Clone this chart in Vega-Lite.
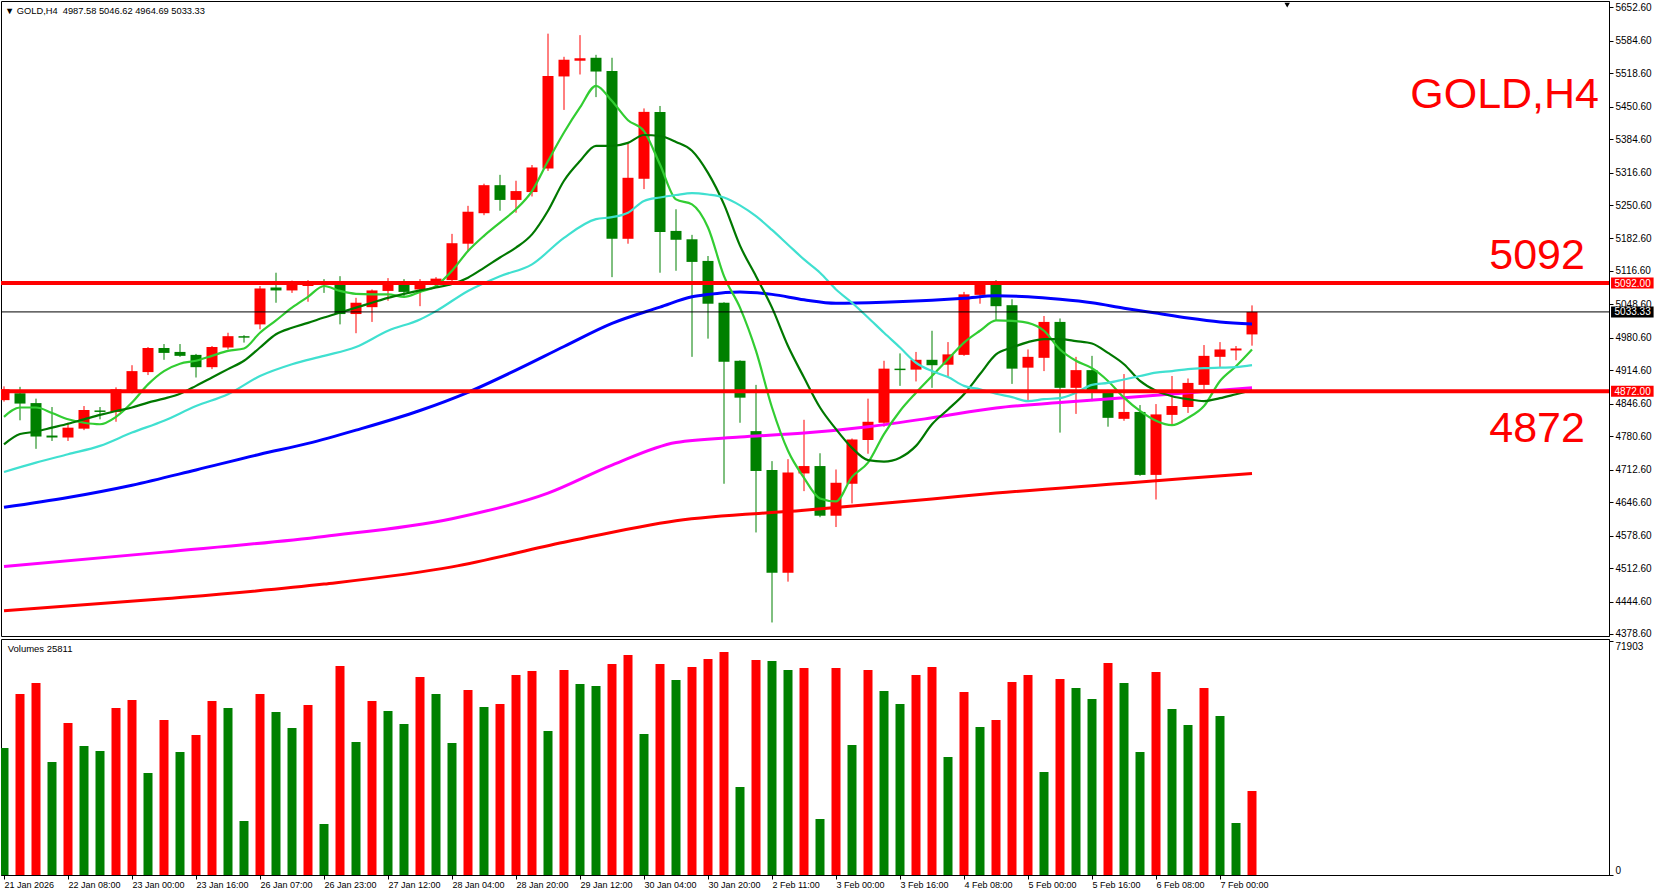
{
  "$schema": "https://vega.github.io/schema/vega-lite/v6.json",
  "padding": 0,
  "spacing": 3,
  "bounds": "flush",
  "background": "white",
  "config": {
    "view": {"stroke": "#000000", "strokeWidth": 1},
    "font": "Liberation Sans",
    "axis": {"domainColor": "#000000", "tickColor": "#000000", "labelColor": "#000000", "labelFont": "Liberation Sans", "labelFontSize": 10, "grid": false, "title": null, "labelOverlap": false, "labelFlush": false, "labelBound": false}
  },
  "datasets": {
    "bars": [
      {"i":0,"o":4854,"h":4882,"l":4851,"c":4876,"v":39027,"vd":"down"},
      {"i":1,"o":4868,"h":4881,"l":4813,"c":4847,"v":55621,"vd":"up"},
      {"i":2,"o":4848,"h":4857,"l":4755,"c":4780,"v":59002,"vd":"up"},
      {"i":3,"o":4782,"h":4840,"l":4771,"c":4778,"v":34725,"vd":"down"},
      {"i":4,"o":4778,"h":4808,"l":4771,"c":4798,"v":46710,"vd":"up"},
      {"i":5,"o":4796,"h":4842,"l":4793,"c":4834,"v":39642,"vd":"down"},
      {"i":6,"o":4833,"h":4840,"l":4815,"c":4830,"v":38105,"vd":"down"},
      {"i":7,"o":4830,"h":4880,"l":4810,"c":4876,"v":51319,"vd":"up"},
      {"i":8,"o":4874,"h":4925,"l":4868,"c":4913,"v":53778,"vd":"up"},
      {"i":9,"o":4911,"h":4962,"l":4905,"c":4960,"v":31345,"vd":"down"},
      {"i":10,"o":4960,"h":4968,"l":4936,"c":4950,"v":47632,"vd":"up"},
      {"i":11,"o":4952,"h":4968,"l":4942,"c":4944,"v":37798,"vd":"down"},
      {"i":12,"o":4946,"h":4948,"l":4900,"c":4921,"v":43022,"vd":"up"},
      {"i":13,"o":4921,"h":4964,"l":4917,"c":4962,"v":53470,"vd":"up"},
      {"i":14,"o":4961,"h":4991,"l":4957,"c":4984,"v":51319,"vd":"down"},
      {"i":15,"o":4984,"h":4986,"l":4971,"c":4981,"v":16594,"vd":"down"},
      {"i":16,"o":5008,"h":5086,"l":4998,"c":5081,"v":55621,"vd":"up"},
      {"i":17,"o":5083,"h":5113,"l":5052,"c":5077,"v":50090,"vd":"down"},
      {"i":18,"o":5077,"h":5097,"l":5072,"c":5090,"v":45173,"vd":"down"},
      {"i":19,"o":5086,"h":5098,"l":5054,"c":5092,"v":52241,"vd":"up"},
      {"i":20,"o":5094,"h":5100,"l":5072,"c":5088,"v":15672,"vd":"down"},
      {"i":21,"o":5090,"h":5106,"l":5008,"c":5029,"v":64226,"vd":"up"},
      {"i":22,"o":5029,"h":5062,"l":4990,"c":5052,"v":40871,"vd":"down"},
      {"i":23,"o":5043,"h":5079,"l":5013,"c":5077,"v":53470,"vd":"up"},
      {"i":24,"o":5076,"h":5102,"l":5056,"c":5090,"v":50397,"vd":"down"},
      {"i":25,"o":5093,"h":5100,"l":5062,"c":5074,"v":46402,"vd":"down"},
      {"i":26,"o":5079,"h":5100,"l":5045,"c":5094,"v":60845,"vd":"up"},
      {"i":27,"o":5090,"h":5104,"l":5085,"c":5101,"v":55621,"vd":"down"},
      {"i":28,"o":5098,"h":5192,"l":5090,"c":5173,"v":40564,"vd":"down"},
      {"i":29,"o":5172,"h":5249,"l":5156,"c":5237,"v":56851,"vd":"up"},
      {"i":30,"o":5234,"h":5294,"l":5230,"c":5291,"v":51626,"vd":"down"},
      {"i":31,"o":5291,"h":5312,"l":5239,"c":5261,"v":52548,"vd":"up"},
      {"i":32,"o":5261,"h":5300,"l":5235,"c":5279,"v":61460,"vd":"up"},
      {"i":33,"o":5277,"h":5332,"l":5268,"c":5327,"v":62689,"vd":"up"},
      {"i":34,"o":5325,"h":5599,"l":5320,"c":5513,"v":44251,"vd":"down"},
      {"i":35,"o":5512,"h":5552,"l":5444,"c":5546,"v":62997,"vd":"up"},
      {"i":36,"o":5544,"h":5596,"l":5516,"c":5549,"v":58694,"vd":"down"},
      {"i":37,"o":5550,"h":5556,"l":5470,"c":5522,"v":58080,"vd":"down"},
      {"i":38,"o":5523,"h":5550,"l":5104,"c":5182,"v":64840,"vd":"up"},
      {"i":39,"o":5182,"h":5375,"l":5172,"c":5306,"v":67606,"vd":"up"},
      {"i":40,"o":5304,"h":5447,"l":5283,"c":5440,"v":43329,"vd":"down"},
      {"i":41,"o":5440,"h":5452,"l":5113,"c":5196,"v":64840,"vd":"up"},
      {"i":42,"o":5198,"h":5242,"l":5117,"c":5180,"v":59924,"vd":"down"},
      {"i":43,"o":5181,"h":5190,"l":4942,"c":5135,"v":63918,"vd":"up"},
      {"i":44,"o":5137,"h":5147,"l":4979,"c":5050,"v":66377,"vd":"up"},
      {"i":45,"o":5052,"h":5053,"l":4684,"c":4932,"v":68528,"vd":"up"},
      {"i":46,"o":4934,"h":4935,"l":4808,"c":4859,"v":27042,"vd":"down"},
      {"i":47,"o":4791,"h":4885,"l":4585,"c":4710,"v":66070,"vd":"up"},
      {"i":48,"o":4712,"h":4730,"l":4402,"c":4503,"v":65762,"vd":"down"},
      {"i":49,"o":4503,"h":4734,"l":4485,"c":4707,"v":62997,"vd":"down"},
      {"i":50,"o":4705,"h":4814,"l":4669,"c":4720,"v":63611,"vd":"up"},
      {"i":51,"o":4720,"h":4746,"l":4616,"c":4619,"v":17209,"vd":"down"},
      {"i":52,"o":4619,"h":4713,"l":4596,"c":4686,"v":63611,"vd":"up"},
      {"i":53,"o":4684,"h":4776,"l":4644,"c":4774,"v":39949,"vd":"down"},
      {"i":54,"o":4773,"h":4857,"l":4745,"c":4810,"v":62997,"vd":"up"},
      {"i":55,"o":4808,"h":4934,"l":4800,"c":4918,"v":56543,"vd":"down"},
      {"i":56,"o":4918,"h":4949,"l":4883,"c":4915,"v":52548,"vd":"down"},
      {"i":57,"o":4916,"h":4952,"l":4892,"c":4936,"v":61460,"vd":"up"},
      {"i":58,"o":4936,"h":4995,"l":4879,"c":4925,"v":63918,"vd":"up"},
      {"i":59,"o":4926,"h":4972,"l":4900,"c":4947,"v":36261,"vd":"down"},
      {"i":60,"o":4946,"h":5074,"l":4944,"c":5069,"v":56236,"vd":"up"},
      {"i":61,"o":5068,"h":5096,"l":5050,"c":5088,"v":45480,"vd":"down"},
      {"i":62,"o":5090,"h":5098,"l":5016,"c":5045,"v":47632,"vd":"up"},
      {"i":63,"o":5047,"h":5059,"l":4887,"c":4918,"v":59309,"vd":"up"},
      {"i":64,"o":4920,"h":4957,"l":4854,"c":4942,"v":61460,"vd":"up"},
      {"i":65,"o":4940,"h":5025,"l":4913,"c":5013,"v":31652,"vd":"down"},
      {"i":66,"o":5013,"h":5020,"l":4788,"c":4879,"v":60231,"vd":"up"},
      {"i":67,"o":4879,"h":4942,"l":4826,"c":4915,"v":57465,"vd":"down"},
      {"i":68,"o":4915,"h":4944,"l":4852,"c":4873,"v":54085,"vd":"down"},
      {"i":69,"o":4872,"h":4875,"l":4800,"c":4818,"v":65148,"vd":"up"},
      {"i":70,"o":4816,"h":4907,"l":4812,"c":4830,"v":59002,"vd":"down"},
      {"i":71,"o":4830,"h":4844,"l":4700,"c":4702,"v":37798,"vd":"down"},
      {"i":72,"o":4702,"h":4846,"l":4652,"c":4825,"v":62382,"vd":"up"},
      {"i":73,"o":4824,"h":4903,"l":4805,"c":4842,"v":51012,"vd":"down"},
      {"i":74,"o":4840,"h":4898,"l":4828,"c":4889,"v":46095,"vd":"down"},
      {"i":75,"o":4885,"h":4966,"l":4876,"c":4944,"v":57465,"vd":"up"},
      {"i":76,"o":4942,"h":4972,"l":4921,"c":4957,"v":48861,"vd":"down"},
      {"i":77,"o":4955,"h":4964,"l":4935,"c":4959,"v":15980,"vd":"down"},
      {"i":78,"o":4987.58,"h":5046.62,"l":4964.69,"c":5033.33,"v":25811,"vd":"up"}
    ],
    "ma": [
      {"s":"LG","i":0,"v":4820},{"s":"LG","i":1,"v":4839},{"s":"LG","i":2,"v":4839},{"s":"LG","i":3,"v":4828},{"s":"LG","i":4,"v":4815},{"s":"LG","i":5,"v":4808},{"s":"LG","i":6,"v":4805},{"s":"LG","i":7,"v":4820},{"s":"LG","i":8,"v":4849},{"s":"LG","i":9,"v":4886},{"s":"LG","i":10,"v":4913},{"s":"LG","i":11,"v":4928},{"s":"LG","i":12,"v":4934},{"s":"LG","i":13,"v":4944},{"s":"LG","i":14,"v":4954},{"s":"LG","i":15,"v":4959},{"s":"LG","i":16,"v":4991},{"s":"LG","i":17,"v":5016},{"s":"LG","i":18,"v":5042},{"s":"LG","i":19,"v":5064},{"s":"LG","i":20,"v":5086},{"s":"LG","i":21,"v":5076},{"s":"LG","i":22,"v":5070},{"s":"LG","i":23,"v":5069},{"s":"LG","i":24,"v":5069},{"s":"LG","i":25,"v":5064},{"s":"LG","i":26,"v":5074},{"s":"LG","i":27,"v":5086},{"s":"LG","i":28,"v":5117},{"s":"LG","i":29,"v":5157},{"s":"LG","i":30,"v":5188},{"s":"LG","i":31,"v":5215},{"s":"LG","i":32,"v":5242},{"s":"LG","i":33,"v":5279},{"s":"LG","i":34,"v":5340},{"s":"LG","i":35,"v":5398},{"s":"LG","i":36,"v":5449},{"s":"LG","i":37,"v":5493},{"s":"LG","i":38,"v":5462},{"s":"LG","i":39,"v":5423},{"s":"LG","i":40,"v":5401},{"s":"LG","i":41,"v":5333},{"s":"LG","i":42,"v":5262},{"s":"LG","i":43,"v":5252},{"s":"LG","i":44,"v":5205},{"s":"LG","i":45,"v":5106},{"s":"LG","i":46,"v":5042},{"s":"LG","i":47,"v":4954},{"s":"LG","i":48,"v":4839},{"s":"LG","i":49,"v":4751},{"s":"LG","i":50,"v":4696},{"s":"LG","i":51,"v":4654},{"s":"LG","i":52,"v":4648},{"s":"LG","i":53,"v":4698},{"s":"LG","i":54,"v":4727},{"s":"LG","i":55,"v":4785},{"s":"LG","i":56,"v":4832},{"s":"LG","i":57,"v":4869},{"s":"LG","i":58,"v":4903},{"s":"LG","i":59,"v":4937},{"s":"LG","i":60,"v":4971},{"s":"LG","i":61,"v":4995},{"s":"LG","i":62,"v":5016},{"s":"LG","i":63,"v":5015},{"s":"LG","i":64,"v":5011},{"s":"LG","i":65,"v":4995},{"s":"LG","i":66,"v":4957},{"s":"LG","i":67,"v":4934},{"s":"LG","i":68,"v":4919},{"s":"LG","i":69,"v":4893},{"s":"LG","i":70,"v":4859},{"s":"LG","i":71,"v":4832},{"s":"LG","i":72,"v":4812},{"s":"LG","i":73,"v":4803},{"s":"LG","i":74,"v":4818},{"s":"LG","i":75,"v":4842},{"s":"LG","i":76,"v":4893},{"s":"LG","i":77,"v":4923},{"s":"LG","i":78,"v":4957},
      {"s":"DG","i":0,"v":4764},{"s":"DG","i":1,"v":4785},{"s":"DG","i":2,"v":4790},{"s":"DG","i":3,"v":4798},{"s":"DG","i":4,"v":4806},{"s":"DG","i":5,"v":4815},{"s":"DG","i":6,"v":4824},{"s":"DG","i":7,"v":4832},{"s":"DG","i":8,"v":4839},{"s":"DG","i":9,"v":4849},{"s":"DG","i":10,"v":4857},{"s":"DG","i":11,"v":4867},{"s":"DG","i":12,"v":4883},{"s":"DG","i":13,"v":4900},{"s":"DG","i":14,"v":4917},{"s":"DG","i":15,"v":4934},{"s":"DG","i":16,"v":4961},{"s":"DG","i":17,"v":4988},{"s":"DG","i":18,"v":5001},{"s":"DG","i":19,"v":5011},{"s":"DG","i":20,"v":5022},{"s":"DG","i":21,"v":5032},{"s":"DG","i":22,"v":5042},{"s":"DG","i":23,"v":5052},{"s":"DG","i":24,"v":5062},{"s":"DG","i":25,"v":5070},{"s":"DG","i":26,"v":5077},{"s":"DG","i":27,"v":5083},{"s":"DG","i":28,"v":5090},{"s":"DG","i":29,"v":5103},{"s":"DG","i":30,"v":5123},{"s":"DG","i":31,"v":5144},{"s":"DG","i":32,"v":5164},{"s":"DG","i":33,"v":5191},{"s":"DG","i":34,"v":5239},{"s":"DG","i":35,"v":5300},{"s":"DG","i":36,"v":5340},{"s":"DG","i":37,"v":5371},{"s":"DG","i":38,"v":5371},{"s":"DG","i":39,"v":5377},{"s":"DG","i":40,"v":5393},{"s":"DG","i":41,"v":5391},{"s":"DG","i":42,"v":5379},{"s":"DG","i":43,"v":5361},{"s":"DG","i":44,"v":5316},{"s":"DG","i":45,"v":5252},{"s":"DG","i":46,"v":5168},{"s":"DG","i":47,"v":5106},{"s":"DG","i":48,"v":5042},{"s":"DG","i":49,"v":4964},{"s":"DG","i":50,"v":4900},{"s":"DG","i":51,"v":4839},{"s":"DG","i":52,"v":4795},{"s":"DG","i":53,"v":4757},{"s":"DG","i":54,"v":4732},{"s":"DG","i":55,"v":4729},{"s":"DG","i":56,"v":4737},{"s":"DG","i":57,"v":4761},{"s":"DG","i":58,"v":4805},{"s":"DG","i":59,"v":4835},{"s":"DG","i":60,"v":4866},{"s":"DG","i":61,"v":4907},{"s":"DG","i":62,"v":4947},{"s":"DG","i":63,"v":4961},{"s":"DG","i":64,"v":4972},{"s":"DG","i":65,"v":4978},{"s":"DG","i":66,"v":4978},{"s":"DG","i":67,"v":4974},{"s":"DG","i":68,"v":4969},{"s":"DG","i":69,"v":4950},{"s":"DG","i":70,"v":4927},{"s":"DG","i":71,"v":4893},{"s":"DG","i":72,"v":4873},{"s":"DG","i":73,"v":4862},{"s":"DG","i":74,"v":4856},{"s":"DG","i":75,"v":4852},{"s":"DG","i":76,"v":4858},{"s":"DG","i":77,"v":4866},{"s":"DG","i":78,"v":4874},
      {"s":"TQ","i":0,"v":4708},{"s":"TQ","i":2,"v":4727},{"s":"TQ","i":4,"v":4744},{"s":"TQ","i":6,"v":4761},{"s":"TQ","i":8,"v":4788},{"s":"TQ","i":10,"v":4812},{"s":"TQ","i":12,"v":4842},{"s":"TQ","i":14,"v":4866},{"s":"TQ","i":16,"v":4903},{"s":"TQ","i":18,"v":4927},{"s":"TQ","i":20,"v":4944},{"s":"TQ","i":22,"v":4962},{"s":"TQ","i":24,"v":4995},{"s":"TQ","i":26,"v":5018},{"s":"TQ","i":27,"v":5035},{"s":"TQ","i":29,"v":5076},{"s":"TQ","i":31,"v":5106},{"s":"TQ","i":33,"v":5130},{"s":"TQ","i":35,"v":5184},{"s":"TQ","i":37,"v":5222},{"s":"TQ","i":38,"v":5226},{"s":"TQ","i":39,"v":5235},{"s":"TQ","i":40,"v":5259},{"s":"TQ","i":41,"v":5266},{"s":"TQ","i":42,"v":5271},{"s":"TQ","i":43,"v":5275},{"s":"TQ","i":44,"v":5272},{"s":"TQ","i":45,"v":5266},{"s":"TQ","i":46,"v":5250},{"s":"TQ","i":47,"v":5228},{"s":"TQ","i":48,"v":5200},{"s":"TQ","i":49,"v":5170},{"s":"TQ","i":50,"v":5140},{"s":"TQ","i":51,"v":5113},{"s":"TQ","i":52,"v":5079},{"s":"TQ","i":53,"v":5052},{"s":"TQ","i":54,"v":5022},{"s":"TQ","i":55,"v":4991},{"s":"TQ","i":56,"v":4961},{"s":"TQ","i":57,"v":4930},{"s":"TQ","i":58,"v":4913},{"s":"TQ","i":59,"v":4901},{"s":"TQ","i":60,"v":4883},{"s":"TQ","i":61,"v":4876},{"s":"TQ","i":62,"v":4867},{"s":"TQ","i":63,"v":4860},{"s":"TQ","i":64,"v":4852},{"s":"TQ","i":65,"v":4856},{"s":"TQ","i":66,"v":4858},{"s":"TQ","i":67,"v":4869},{"s":"TQ","i":68,"v":4885},{"s":"TQ","i":69,"v":4889},{"s":"TQ","i":70,"v":4896},{"s":"TQ","i":71,"v":4903},{"s":"TQ","i":72,"v":4910},{"s":"TQ","i":73,"v":4913},{"s":"TQ","i":74,"v":4917},{"s":"TQ","i":75,"v":4919},{"s":"TQ","i":76,"v":4920},{"s":"TQ","i":77,"v":4921},{"s":"TQ","i":78,"v":4925},
      {"s":"BL","i":0,"v":4636},{"s":"BL","i":4,"v":4656},{"s":"BL","i":8,"v":4681},{"s":"BL","i":12,"v":4712},{"s":"BL","i":16,"v":4744},{"s":"BL","i":19,"v":4766},{"s":"BL","i":22,"v":4793},{"s":"BL","i":26,"v":4833},{"s":"BL","i":29,"v":4870},{"s":"BL","i":32,"v":4915},{"s":"BL","i":35,"v":4963},{"s":"BL","i":38,"v":5010},{"s":"BL","i":41,"v":5043},{"s":"BL","i":43,"v":5064},{"s":"BL","i":44,"v":5069},{"s":"BL","i":46,"v":5074},{"s":"BL","i":48,"v":5069},{"s":"BL","i":50,"v":5058},{"s":"BL","i":52,"v":5051},{"s":"BL","i":55,"v":5053},{"s":"BL","i":58,"v":5057},{"s":"BL","i":60,"v":5061},{"s":"BL","i":62,"v":5066},{"s":"BL","i":64,"v":5064},{"s":"BL","i":66,"v":5059},{"s":"BL","i":68,"v":5052},{"s":"BL","i":70,"v":5041},{"s":"BL","i":72,"v":5031},{"s":"BL","i":74,"v":5021},{"s":"BL","i":76,"v":5013},{"s":"BL","i":78,"v":5009},
      {"s":"MG","i":0,"v":4516},{"s":"MG","i":10,"v":4545},{"s":"MG","i":20,"v":4577},{"s":"MG","i":28,"v":4613},{"s":"MG","i":34,"v":4665},{"s":"MG","i":38,"v":4722},{"s":"MG","i":42,"v":4768},{"s":"MG","i":46,"v":4779},{"s":"MG","i":50,"v":4787},{"s":"MG","i":54,"v":4800},{"s":"MG","i":58,"v":4818},{"s":"MG","i":62,"v":4838},{"s":"MG","i":66,"v":4849},{"s":"MG","i":70,"v":4859},{"s":"MG","i":74,"v":4869},{"s":"MG","i":78,"v":4879},
      {"s":"RD","i":0,"v":4426},{"s":"RD","i":10,"v":4450},{"s":"RD","i":20,"v":4480},{"s":"RD","i":28,"v":4515},{"s":"RD","i":35,"v":4565},{"s":"RD","i":42,"v":4609},{"s":"RD","i":50,"v":4630},{"s":"RD","i":58,"v":4653},{"s":"RD","i":62,"v":4665},{"s":"RD","i":70,"v":4685},{"s":"RD","i":78,"v":4705}
    ],
    "levels": [
      {"level":5092,"label":"5092.00","kind":"sr"},
      {"level":4872,"label":"4872.00","kind":"sr"},
      {"level":5033.33,"label":"5033.33","kind":"bid"}
    ],
    "notes": [
      {"t":"GOLD,H4","x":99.69,"y":5448},
      {"t":"5092","x":98.81,"y":5120},
      {"t":"4872","x":98.81,"y":4768}
    ],
    "header": [
      {"t":"▼ GOLD,H4\u00a0 4987.58 5046.62 4964.69 5033.33","x":0.0,"y":5645}
    ],
    "marker": [
      {"x":80.2,"y":5657}
    ],
    "vlabel": [
      {"t":"Volumes 25811","x":0.23,"y":69603}
    ]
  },
  "vconcat": [
    {
      "width": 1608,
      "height": 635,
      "layer": [
        {
          "data": {"name": "bars"},
          "mark": {"type": "rule", "strokeWidth": 1, "clip": true},
          "encoding": {
            "x": {"field": "i", "type": "quantitative", "scale": {"domain": [-0.1875, 100.3125], "nice": false, "zero": false, "padding": 0}, "axis": null},
            "y": {"field": "l", "type": "quantitative", "scale": {"domain": [4374.5, 5665.4], "nice": false, "zero": false, "padding": 0},
                  "axis": {"orient": "right", "values": [5652.6,5584.6,5518.6,5450.6,5384.6,5316.6,5250.6,5182.6,5116.6,5048.6,4980.6,4914.6,4846.6,4780.6,4712.6,4646.6,4578.6,4512.6,4444.6,4378.6], "tickCount": 100, "format": ".2f", "tickSize": 4, "labelPadding": 2, "labelOverlap": false, "labelBound": false}},
            "y2": {"field": "h"},
            "color": {"condition": {"test": "datum.c >= datum.o", "value": "#FF0000"}, "value": "#008000"}
          }
        },
        {
          "data": {"name": "bars"},
          "mark": {"type": "bar", "size": 11, "clip": true},
          "encoding": {
            "x": {"field": "i", "type": "quantitative"},
            "y": {"field": "o", "type": "quantitative"},
            "y2": {"field": "c"},
            "color": {"condition": {"test": "datum.c >= datum.o", "value": "#FF0000"}, "value": "#008000"}
          }
        },
        {
          "data": {"name": "ma"},
          "transform": [{"filter": {"field": "s", "oneOf": ["RD", "MG", "BL"]}}],
          "mark": {"type": "line", "strokeWidth": 3, "interpolate": "monotone", "clip": true},
          "encoding": {
            "x": {"field": "i", "type": "quantitative"},
            "y": {"field": "v", "type": "quantitative"},
            "color": {"field": "s", "type": "nominal", "scale": {"domain": ["RD", "MG", "BL", "TQ", "DG", "LG"], "range": ["#FF0000", "#FF00FF", "#0000FF", "#40E0D0", "#007800", "#32CD32"]}, "legend": null}
          }
        },
        {
          "data": {"name": "ma"},
          "transform": [{"filter": {"field": "s", "oneOf": ["TQ", "DG", "LG"]}}],
          "mark": {"type": "line", "strokeWidth": 2.2, "interpolate": "monotone", "clip": true},
          "encoding": {
            "x": {"field": "i", "type": "quantitative"},
            "y": {"field": "v", "type": "quantitative"},
            "color": {"field": "s", "type": "nominal", "legend": null}
          }
        },
        {
          "data": {"name": "levels"},
          "transform": [{"filter": "datum.kind == 'bid'"}],
          "mark": {"type": "rule", "strokeWidth": 1, "color": "#000000", "clip": true},
          "encoding": {"y": {"field": "level", "type": "quantitative"}}
        },
        {
          "data": {"name": "levels"},
          "transform": [{"filter": "datum.kind == 'sr'"}],
          "mark": {"type": "rule", "strokeWidth": 4, "color": "#FF0000", "clip": true},
          "encoding": {"y": {"field": "level", "type": "quantitative"}}
        },
        {
          "data": {"name": "levels"},
          "mark": {"type": "bar", "size": 11, "clip": false},
          "encoding": {
            "x": {"datum": 100.44, "type": "quantitative"},
            "x2": {"datum": 103.1},
            "y": {"field": "level", "type": "quantitative"},
            "color": {"condition": {"test": "datum.kind == 'sr'", "value": "#FF0000"}, "value": "#000000"}
          }
        },
        {
          "data": {"name": "levels"},
          "mark": {"type": "text", "align": "left", "baseline": "middle", "fontSize": 10, "color": "#FFFFFF", "clip": false, "dy": 0.5},
          "encoding": {
            "x": {"datum": 100.66, "type": "quantitative"},
            "y": {"field": "level", "type": "quantitative"},
            "text": {"field": "label"}
          }
        },
        {
          "data": {"name": "notes"},
          "mark": {"type": "text", "align": "right", "baseline": "alphabetic", "fontSize": 43, "color": "#FF0000", "font": "Liberation Sans", "clip": true},
          "encoding": {
            "x": {"field": "x", "type": "quantitative"},
            "y": {"field": "y", "type": "quantitative"},
            "text": {"field": "t"}
          }
        },
        {
          "data": {"name": "header"},
          "mark": {"type": "text", "align": "left", "baseline": "middle", "fontSize": 9.3, "color": "#000000", "dx": 1, "clip": true},
          "encoding": {
            "x": {"field": "x", "type": "quantitative"},
            "y": {"field": "y", "type": "quantitative"},
            "text": {"field": "t"}
          }
        },
        {
          "data": {"name": "marker"},
          "mark": {"type": "point", "shape": "triangle-down", "filled": true, "size": 30, "color": "#000000", "opacity": 1, "clip": true},
          "encoding": {
            "x": {"field": "x", "type": "quantitative"},
            "y": {"field": "y", "type": "quantitative"}
          }
        }
      ]
    },
    {
      "width": 1608,
      "height": 236,
      "layer": [
        {
          "data": {"name": "bars"},
          "mark": {"type": "bar", "size": 9, "clip": true},
          "encoding": {
            "x": {"field": "i", "type": "quantitative", "scale": {"domain": [-0.1875, 100.3125], "nice": false, "zero": false, "padding": 0},
                  "axis": {"orient": "bottom", "values": [0,4,8,12,16,20,24,28,32,36,40,44,48,52,56,60,64,68,72,76], "tickCount": 100, "labelAlign": "left", "labelBaseline": "top", "tickSize": 4, "labelPadding": 1, "labelFontSize": 9, "labelOverlap": false,
                           "labelExpr": "['21 Jan 2026','22 Jan 08:00','23 Jan 00:00','23 Jan 16:00','26 Jan 07:00','26 Jan 23:00','27 Jan 12:00','28 Jan 04:00','28 Jan 20:00','29 Jan 12:00','30 Jan 04:00','30 Jan 20:00','2 Feb 11:00','3 Feb 00:00','3 Feb 16:00','4 Feb 08:00','5 Feb 00:00','5 Feb 16:00','6 Feb 08:00','7 Feb 00:00'][round(datum.value/4)]"}},
            "y": {"field": "v", "type": "quantitative", "scale": {"domain": [0, 72523], "nice": false, "zero": true, "padding": 0},
                  "axis": {"orient": "right", "values": [0, 71903], "format": "d", "tickSize": 4, "labelPadding": 2,
                           "labelBaseline": {"condition": {"test": "datum.value > 0", "value": "top"}, "value": "bottom"}}},
            "color": {"condition": {"test": "datum.vd == 'up'", "value": "#FF0000"}, "value": "#008000"}
          }
        },
        {
          "data": {"name": "vlabel"},
          "mark": {"type": "text", "align": "left", "baseline": "middle", "fontSize": 9.5, "color": "#000000", "clip": true},
          "encoding": {
            "x": {"field": "x", "type": "quantitative"},
            "y": {"field": "y", "type": "quantitative"},
            "text": {"field": "t"}
          }
        }
      ]
    }
  ]
}
